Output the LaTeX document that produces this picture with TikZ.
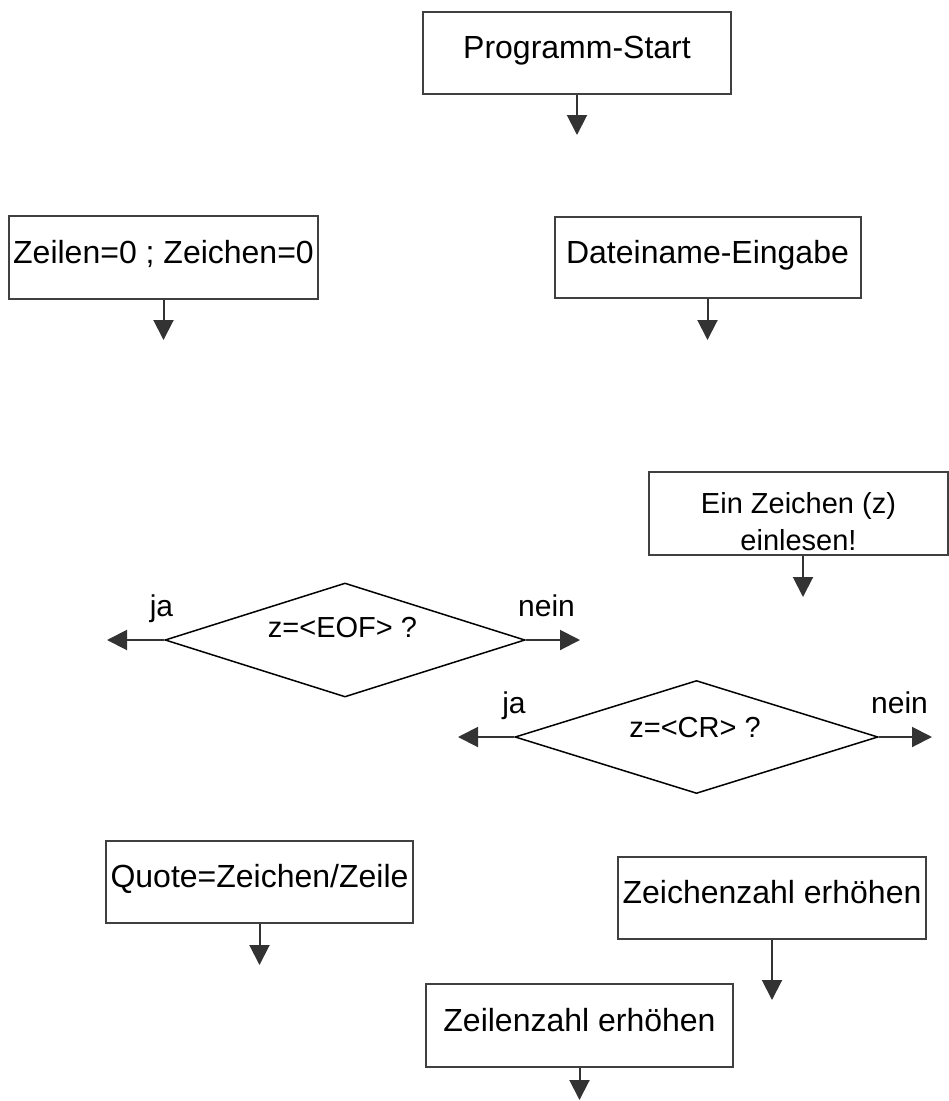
\documentclass[tikz,border=0pt]{standalone}
\usepackage{fontspec}
\setmainfont{Liberation Sans}
\usetikzlibrary{arrows.meta,shapes.geometric}
\definecolor{boxgray}{HTML}{404040}
\definecolor{arrowgray}{HTML}{333333}
\begin{document}
\begin{tikzpicture}[x=1pt,y=-1pt,
  box/.style={draw=boxgray,line width=2pt,inner sep=0pt,minimum width=308pt,minimum height=82pt},
  txt/.style={anchor=base,inner sep=0pt,font=\fontsize{32}{38}\selectfont},
  small/.style={anchor=base,inner sep=0pt,font=\fontsize{29}{35}\selectfont},
  lab/.style={anchor=base,inner sep=0pt,font=\fontsize{30}{36}\selectfont},
  dec/.style={diamond,draw=black,line width=1.5pt,inner sep=0pt},
  flow/.style={draw=arrowgray,line width=2pt,-{Triangle[width=20pt,length=20pt]}},
]
\useasboundingbox (0,0) rectangle (949,1101);

% boxes
\node[box] (start) at (577,53) {};
\node[box,minimum width=309pt,minimum height=83pt] (init) at (163.5,257.5) {};
\node[box,minimum width=306pt,minimum height=81pt] (datei) at (707.5,257) {};
\node[box,minimum width=299pt,minimum height=83pt] (ein) at (798.5,513.5) {};
\node[box,minimum width=307pt] (quote) at (259.5,882) {};
\node[box] (zz) at (772,898) {};
\node[box,minimum width=307pt,minimum height=83pt] (zl) at (579.5,1025.5) {};

% diamonds
\node[dec,minimum width=360pt,minimum height=114pt] (d1) at (345,640) {};
\node[dec,minimum width=363pt,minimum height=113pt] (d2) at (696.5,737) {};

% texts
\node[txt] (tstart) at (577,58) {Programm-Start};
\node[txt] (tinit) at (163.5,263) {Zeilen=0 ; Zeichen=0};
\node[txt] (tdatei) at (707.5,263) {Dateiname-Eingabe};
\node[small] (tein1) at (798.5,513) {Ein Zeichen (z)};
\node[small] (tein2) at (798.5,550) {einlesen!};
\node[txt] (tquote) at (259.5,887) {Quote=Zeichen/Zeile};
\node[txt] (tzz) at (772,903) {Zeichenzahl erhöhen};
\node[txt] (tzl) at (579.5,1031) {Zeilenzahl erhöhen};
\node[small] (td1) at (342.5,637) {z=<EOF> ?};
\node[small] (td2) at (695,737) {z=<CR> ?};
\node[lab] (ja1) at (161.5,616) {ja};
\node[lab] (nein1) at (546.5,616) {nein};
\node[lab] (ja2) at (514,713) {ja};
\node[lab] (nein2) at (899.5,713) {nein};

% arrow ends
\coordinate (a1) at (577,135);
\coordinate (a2) at (163.5,340);
\coordinate (a3) at (707.5,340);
\coordinate (a4) at (803,597);
\coordinate (a5) at (107,640);
\coordinate (a6) at (580,640);
\coordinate (a7) at (458,737);
\coordinate (a8) at (932,737);
\coordinate (a9) at (259.5,965);
\coordinate (a10) at (772,1000);
\coordinate (a11) at (579.5,1100);

\draw[flow] (start.south) -- (a1);
\draw[flow] (init.south) -- (a2);
\draw[flow] (datei.south) -- (a3);
\draw[flow] (ein.south -| a4) -- (a4);
\draw[flow] (d1.west) -- (a5);
\draw[flow] (d1.east) -- (a6);
\draw[flow] (d2.west) -- (a7);
\draw[flow] (d2.east) -- (a8);
\draw[flow] (quote.south) -- (a9);
\draw[flow] (zz.south) -- (a10);
\draw[flow] (zl.south) -- (a11);
\end{tikzpicture}
\end{document}
